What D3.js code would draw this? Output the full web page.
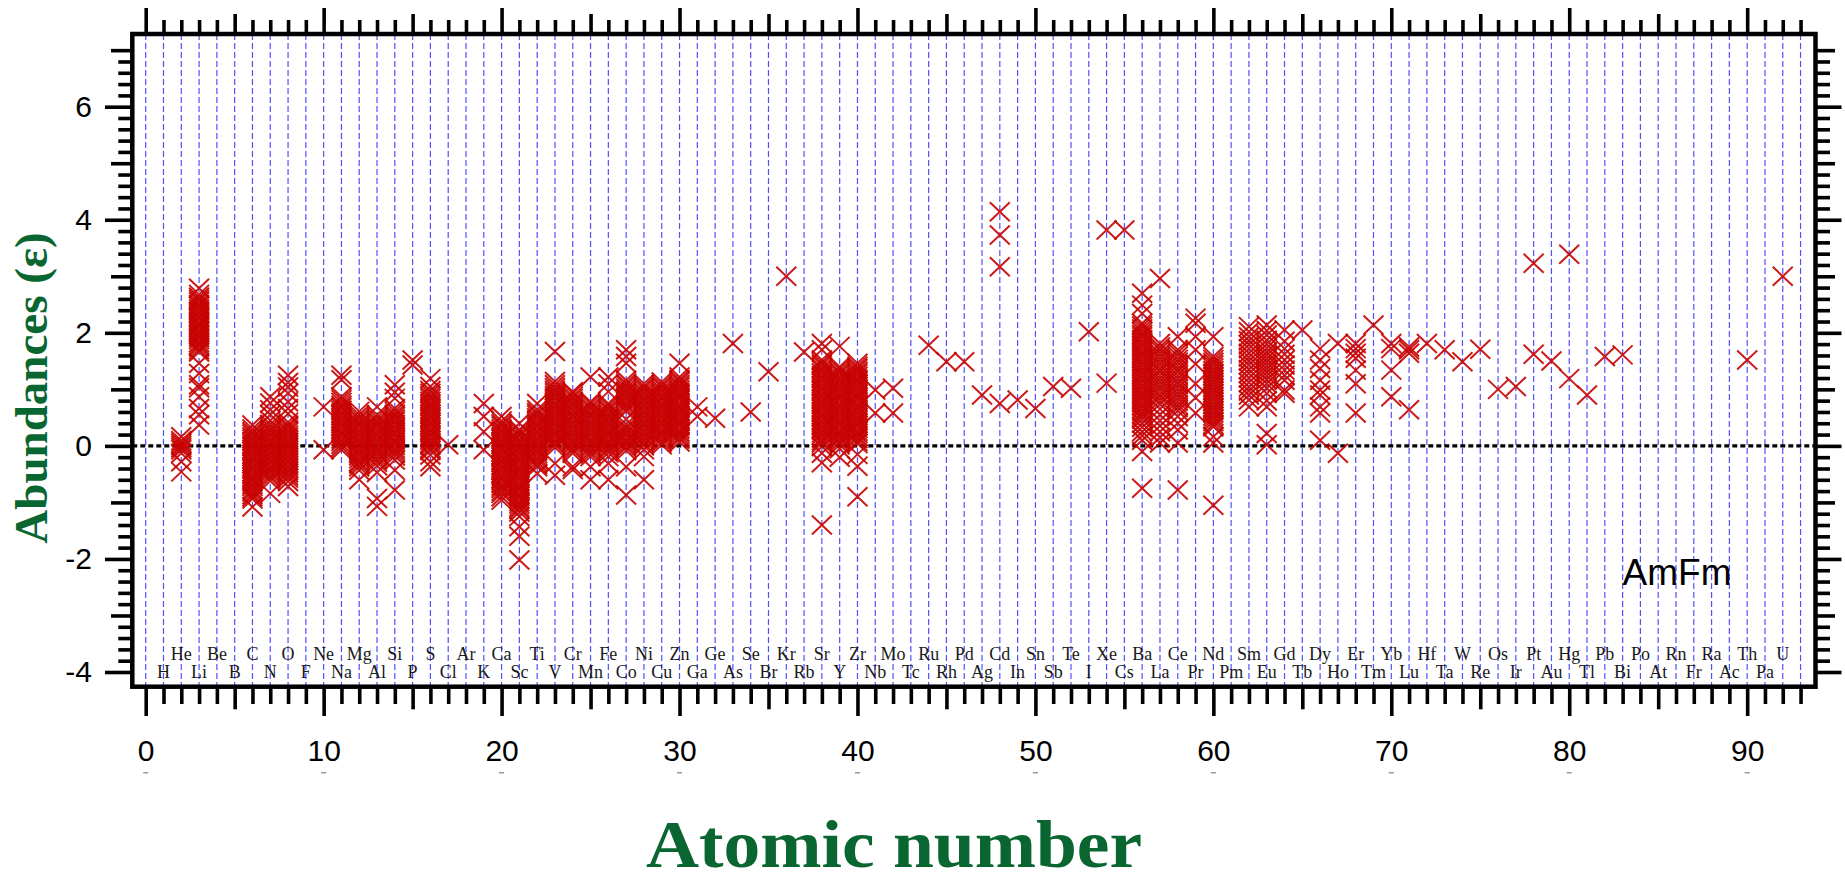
<!DOCTYPE html>
<html>
<head>
<meta charset="utf-8">
<script src="https://cdn.jsdelivr.net/npm/d3@7"></script>
<style>
  html, body { margin: 0; padding: 0; background: #ffffff; }
  svg { display: block; }
</style>
</head>
<body>
<svg id="chart" width="1845" height="882"></svg>
<script>
// Element symbols, index = atomic number - 1
const elementSymbols = ["H","He","Li","Be","B","C","N","O","F","Ne","Na","Mg","Al","Si","P","S","Cl","Ar","K","Ca",
  "Sc","Ti","V","Cr","Mn","Fe","Co","Ni","Cu","Zn","Ga","Ge","As","Se","Br","Kr","Rb","Sr","Y","Zr",
  "Nb","Mo","Tc","Ru","Rh","Pd","Ag","Cd","In","Sn","Sb","Te","I","Xe","Cs","Ba","La","Ce","Pr","Nd",
  "Pm","Sm","Eu","Gd","Tb","Dy","Ho","Er","Tm","Yb","Lu","Hf","Ta","W","Re","Os","Ir","Pt","Au","Hg",
  "Tl","Pb","Bi","Po","At","Rn","Fr","Ra","Ac","Th","Pa","U"];

const xMajorTicks = [0, 10, 20, 30, 40, 50, 60, 70, 80, 90];
const yMajorTicks = [-4, -2, 0, 2, 4, 6];
const seriesLabel = "AmFm";

// Abundances (epsilon) of each measured element
const He = [0.16, 0.09, 0.05, 0.01, -0.03, -0.07, -0.13, -0.28, -0.46];
const Li = [2.79, 2.68, 2.63, 2.59, 2.55, 2.50, 2.47, 2.42, 2.38, 2.34, 2.29, 2.26, 2.21, 2.17, 2.13, 2.09, 2.04, 2.01,
  1.96, 1.92, 1.88, 1.83, 1.79, 1.75, 1.70, 1.66, 1.46, 1.28, 1.08, 1.03, 0.87, 0.66, 0.55, 0.37];
const C = [0.37, 0.30, 0.25, 0.21, 0.16, 0.12, 0.08, 0.03, -0.01, -0.06, -0.10, -0.15, -0.19, -0.23, -0.28, -0.32,
  -0.37, -0.41, -0.46, -0.50, -0.55, -0.59, -0.63, -0.68, -0.72, -0.77, -0.81, -0.86, -0.90, -0.94, -1.08];
const N = [0.87, 0.76, 0.64, 0.55, 0.45, 0.38, 0.33, 0.28, 0.24, 0.19, 0.15, 0.10, 0.06, 0.01, -0.03, -0.08, -0.12,
  -0.17, -0.21, -0.26, -0.30, -0.35, -0.39, -0.44, -0.48, -0.53, -0.57, -0.62, -0.84];
const O = [1.25, 1.12, 1.04, 0.93, 0.78, 0.66, 0.57, 0.42, 0.37, 0.33, 0.28, 0.24, 0.19, 0.15, 0.10, 0.06, 0.01, -0.03,
  -0.08, -0.12, -0.17, -0.21, -0.26, -0.30, -0.35, -0.39, -0.44, -0.48, -0.53, -0.57, -0.63, -0.72];
const Ne = [0.69, -0.07];
const Na = [1.25, 1.17, 0.87, 0.82, 0.77, 0.72, 0.68, 0.63, 0.58, 0.54, 0.49, 0.45, 0.40, 0.35, 0.31, 0.26, 0.22, 0.17,
  0.12, 0.08, 0.03, -0.02, -0.07];
const Mg = [0.61, 0.55, 0.50, 0.46, 0.41, 0.37, 0.32, 0.27, 0.23, 0.18, 0.14, 0.09, 0.05, 0.00, -0.05, -0.09, -0.14,
  -0.18, -0.23, -0.28, -0.32, -0.37, -0.43, -0.60];
const Al = [0.69, 0.55, 0.50, 0.45, 0.41, 0.36, 0.32, 0.27, 0.22, 0.18, 0.13, 0.09, 0.04, -0.01, -0.05, -0.10, -0.14,
  -0.19, -0.24, -0.29, -0.35, -0.47, -0.93, -1.07];
const Si = [1.08, 0.95, 0.84, 0.66, 0.61, 0.56, 0.52, 0.47, 0.43, 0.38, 0.33, 0.29, 0.24, 0.20, 0.15, 0.10, 0.06, 0.01,
  -0.04, -0.08, -0.13, -0.18, -0.25, -0.43, -0.78];
const P = [1.52, 1.43];
const S = [1.19, 1.05, 0.98, 0.93, 0.88, 0.84, 0.79, 0.74, 0.70, 0.65, 0.61, 0.56, 0.51, 0.47, 0.42, 0.38, 0.33, 0.28,
  0.24, 0.19, 0.15, 0.10, 0.05, 0.01, -0.04, -0.08, -0.16, -0.28, -0.37];
const Cl = [0.02];
const K = [0.75, 0.52, 0.25, -0.07];
const Ca = [0.52, 0.44, 0.39, 0.35, 0.30, 0.26, 0.21, 0.16, 0.12, 0.07, 0.03, -0.02, -0.06, -0.11, -0.16, -0.20, -0.25,
  -0.29, -0.34, -0.38, -0.43, -0.48, -0.52, -0.57, -0.61, -0.66, -0.71, -0.75, -0.80, -0.84, -0.90, -0.96];
const Sc = [0.40, 0.29, 0.25, 0.20, 0.16, 0.11, 0.07, 0.02, -0.03, -0.07, -0.12, -0.16, -0.21, -0.25, -0.30, -0.35,
  -0.39, -0.44, -0.48, -0.53, -0.57, -0.62, -0.67, -0.71, -0.76, -0.80, -0.85, -0.89, -0.94, -0.99, -1.03, -1.08,
  -1.12, -1.17, -1.25, -1.43, -1.60, -2.02];
const Ti = [0.75, 0.64, 0.59, 0.55, 0.50, 0.46, 0.41, 0.36, 0.32, 0.27, 0.23, 0.18, 0.13, 0.09, 0.04, 0.00, -0.05,
  -0.09, -0.14, -0.19, -0.23, -0.28, -0.33, -0.37, -0.49];
const V = [1.67, 1.14, 1.08, 1.03, 0.98, 0.94, 0.89, 0.85, 0.80, 0.75, 0.71, 0.66, 0.62, 0.57, 0.52, 0.48, 0.43, 0.39,
  0.34, 0.29, 0.25, 0.20, 0.16, 0.11, 0.06, 0.02, -0.03, -0.31, -0.52];
const Cr = [0.96, 0.93, 0.88, 0.84, 0.79, 0.75, 0.70, 0.65, 0.61, 0.56, 0.52, 0.47, 0.42, 0.38, 0.33, 0.29, 0.24, 0.19,
  0.15, 0.10, 0.06, 0.01, -0.04, -0.08, -0.13, -0.37, -0.42];
const Mn = [1.22, 0.78, 0.74, 0.69, 0.65, 0.60, 0.55, 0.51, 0.46, 0.42, 0.37, 0.32, 0.28, 0.23, 0.19, 0.14, 0.09, 0.05,
  0.00, -0.04, -0.09, -0.14, -0.19, -0.37, -0.60];
const Fe = [1.22, 1.10, 0.96, 0.75, 0.71, 0.66, 0.62, 0.57, 0.52, 0.48, 0.43, 0.39, 0.34, 0.29, 0.25, 0.20, 0.16, 0.11,
  0.06, 0.02, -0.03, -0.07, -0.12, -0.19, -0.31, -0.60];
const Co = [1.70, 1.58, 1.46, 1.16, 1.11, 1.07, 1.02, 0.97, 0.93, 0.88, 0.84, 0.79, 0.74, 0.70, 0.65, 0.61, 0.47, 0.38,
  0.33, 0.29, 0.24, 0.20, 0.15, 0.10, 0.06, 0.01, -0.03, -0.08, -0.37, -0.87];
const Ni = [1.10, 1.05, 1.01, 0.96, 0.92, 0.87, 0.82, 0.78, 0.73, 0.69, 0.64, 0.60, 0.55, 0.50, 0.46, 0.41, 0.37, 0.32,
  0.27, 0.23, 0.18, 0.14, 0.09, 0.04, 0.00, -0.07, -0.19, -0.60];
const Cu = [1.13, 1.08, 1.04, 0.99, 0.95, 0.90, 0.85, 0.81, 0.76, 0.72, 0.67, 0.62, 0.58, 0.53, 0.49, 0.44, 0.40, 0.35,
  0.30, 0.26, 0.21, 0.17, 0.12, 0.07, 0.02];
const Zn = [1.46, 1.22, 1.17, 1.13, 1.08, 1.04, 0.99, 0.94, 0.90, 0.85, 0.81, 0.76, 0.71, 0.67, 0.62, 0.58, 0.53, 0.48,
  0.44, 0.39, 0.35, 0.30, 0.25, 0.21, 0.16, 0.12, 0.07];
const Ga = [0.69, 0.52];
const Ge = [0.49];
const As = [1.81];
const Se = [0.60];
const Br = [1.31];
const Kr = [3.00];
const Rb = [1.66];
const Sr = [1.81, 1.70, 1.52, 1.47, 1.43, 1.38, 1.34, 1.29, 1.24, 1.20, 1.15, 1.11, 1.06, 1.01, 0.97, 0.92, 0.88, 0.83,
  0.78, 0.74, 0.69, 0.65, 0.60, 0.55, 0.51, 0.46, 0.42, 0.37, 0.32, 0.28, 0.23, 0.19, 0.14, 0.09, 0.05, -0.01, -0.13,
  -0.30, -1.40];
const Y = [1.76, 1.40, 1.36, 1.31, 1.27, 1.22, 1.17, 1.13, 1.08, 1.04, 0.99, 0.94, 0.90, 0.85, 0.81, 0.76, 0.71, 0.67,
  0.62, 0.58, 0.53, 0.48, 0.44, 0.39, 0.35, 0.30, 0.25, 0.21, 0.16, 0.12, 0.07, 0.02, -0.05, -0.20];
const Zr = [1.46, 1.41, 1.37, 1.32, 1.28, 1.23, 1.18, 1.14, 1.09, 1.05, 1.00, 0.95, 0.91, 0.86, 0.82, 0.77, 0.72, 0.68,
  0.63, 0.59, 0.54, 0.49, 0.45, 0.40, 0.36, 0.31, 0.26, 0.22, 0.17, 0.13, 0.08, 0.04, -0.15, -0.36, -0.90];
const Nb = [0.99, 0.58];
const Mo = [1.02, 0.58];
const Ru = [1.78];
const Rh = [1.49];
const Pd = [1.49];
const Ag = [0.90];
const Cd = [4.14, 3.73, 3.17, 0.75];
const In = [0.81];
const Sn = [0.66];
const Sb = [1.05];
const Te = [1.02];
const I = [2.02];
const Xe = [3.82, 1.11];
const Cs = [3.82];
const Ba = [2.70, 2.49, 2.34, 2.17, 2.12, 2.07, 2.02, 1.97, 1.93, 1.88, 1.83, 1.78, 1.73, 1.68, 1.63, 1.59, 1.54, 1.49,
  1.44, 1.39, 1.34, 1.29, 1.25, 1.20, 1.15, 1.10, 1.05, 1.00, 0.95, 0.91, 0.86, 0.81, 0.76, 0.71, 0.66, 0.61, 0.57,
  0.52, 0.47, 0.40, 0.33, 0.25, 0.18, 0.10, -0.10, -0.75];
const La = [2.96, 1.81, 1.75, 1.70, 1.64, 1.58, 1.53, 1.47, 1.42, 1.36, 1.31, 1.25, 1.19, 1.14, 1.08, 1.03, 0.97, 0.91,
  0.86, 0.80, 0.74, 0.65, 0.55, 0.45, 0.35, 0.25, 0.15, 0.05];
const Ce = [1.93, 1.70, 1.65, 1.59, 1.53, 1.48, 1.42, 1.36, 1.31, 1.25, 1.19, 1.13, 1.08, 1.02, 0.96, 0.91, 0.85, 0.79,
  0.73, 0.68, 0.62, 0.52, 0.40, 0.28, 0.05, -0.78];
const Pr = [2.26, 2.17, 1.93, 1.70, 1.45, 1.10, 0.85, 0.58];
const Nd = [1.93, 1.58, 1.53, 1.48, 1.43, 1.38, 1.33, 1.28, 1.23, 1.18, 1.13, 1.08, 1.03, 0.98, 0.93, 0.88, 0.83, 0.78,
  0.73, 0.68, 0.63, 0.58, 0.53, 0.48, 0.43, 0.38, 0.34, 0.16, 0.05, -1.05];
const Sm = [2.11, 2.02, 1.93, 1.86, 1.79, 1.72, 1.64, 1.57, 1.50, 1.43, 1.35, 1.28, 1.20, 1.12, 1.04, 0.97, 0.90, 0.81, 0.69];
const Eu = [2.14, 2.04, 1.96, 1.87, 1.80, 1.73, 1.66, 1.60, 1.54, 1.48, 1.42, 1.36, 1.30, 1.24, 1.17, 1.10, 1.02, 0.93,
  0.80, 0.69, 0.22, 0.02];
const Gd = [2.05, 1.85, 1.72, 1.62, 1.52, 1.43, 1.34, 1.25, 1.16, 0.99, 0.93];
const Tb = [2.05];
const Dy = [1.72, 1.52, 1.37, 1.16, 0.99, 0.90, 0.69, 0.58, 0.10];
const Ho = [1.81, -0.13];
const Er = [1.81, 1.72, 1.64, 1.55, 1.34, 1.10, 0.58];
const Tm = [2.14];
const Yb = [1.81, 1.72, 1.34, 0.87];
const Lu = [1.75, 1.70, 1.64, 0.64];
const Hf = [1.81];
const Ta = [1.70];
const W = [1.49];
const Re = [1.71];
const Os = [1.00];
const Ir = [1.05];
const Pt = [3.23, 1.62];
const Au = [1.50];
const Hg = [3.39, 1.19];
const Tl = [0.90];
const Pb = [1.58];
const Bi = [1.61];
const Th = [1.52];
const U = [3.00];

// atomic number -> measured values
const abundanceSets = [
  [2, He], [3, Li], [6, C], [7, N], [8, O], [10, Ne], [11, Na], [12, Mg], [13, Al], [14, Si], [15, P], [16, S],
  [17, Cl], [19, K], [20, Ca], [21, Sc], [22, Ti], [23, V], [24, Cr], [25, Mn], [26, Fe], [27, Co], [28, Ni],
  [29, Cu], [30, Zn], [31, Ga], [32, Ge], [33, As], [34, Se], [35, Br], [36, Kr], [37, Rb], [38, Sr], [39, Y],
  [40, Zr], [41, Nb], [42, Mo], [44, Ru], [45, Rh], [46, Pd], [47, Ag], [48, Cd], [49, In], [50, Sn], [51, Sb],
  [52, Te], [53, I], [54, Xe], [55, Cs], [56, Ba], [57, La], [58, Ce], [59, Pr], [60, Nd], [62, Sm], [63, Eu],
  [64, Gd], [65, Tb], [66, Dy], [67, Ho], [68, Er], [69, Tm], [70, Yb], [71, Lu], [72, Hf], [73, Ta], [74, W],
  [75, Re], [76, Os], [77, Ir], [78, Pt], [79, Au], [80, Hg], [81, Tl], [82, Pb], [83, Bi], [90, Th], [92, U]
];

const points = abundanceSets.flatMap(([z, vals]) => vals.map(v => ({ z, v })));

// ---- layout ----
const frame = { left: 132.3, right: 1815.5, top: 34, bottom: 686.7 };
const svg = d3.select("#chart");

const x = d3.scaleLinear().domain([-0.753, 93.84]).range([frame.left, frame.right]);
const y = d3.scaleLinear().domain([-4.26, 7.286]).range([frame.bottom, frame.top]);

const zAll = d3.range(0, 94);
const xMinor = zAll.filter(d => d % 5 !== 0);
const xMedium = zAll.filter(d => d % 5 === 0 && d % 10 !== 0);
const yFine = d3.range(-19, 36).map(i => +(i * 0.2).toFixed(1));
const yMinor = yFine.filter(d => Math.abs(d - Math.round(d)) > 1e-6);
const yMedium = yFine.filter(d => Math.abs(d - Math.round(d)) < 1e-6 && Math.abs(Math.round(d)) % 2 === 1);

// vertical dashed grid at every atomic number
svg.append("g").selectAll("line").data(zAll).join("line")
  .attr("x1", d => x(d)).attr("x2", d => x(d))
  .attr("y1", frame.top).attr("y2", frame.bottom)
  .attr("stroke", "#3d3dff").attr("stroke-opacity", 0.9)
  .attr("stroke-width", 1.2).attr("stroke-dasharray", "6,3");

// element symbols, alternating rows
svg.append("g").selectAll("text").data(elementSymbols).join("text")
  .attr("x", (d, i) => x(i + 1))
  .attr("y", (d, i) => ((i + 1) % 2 === 0 ? 660 : 677.7))
  .attr("text-anchor", "middle")
  .attr("font-family", "'Liberation Serif', 'Times New Roman', serif")
  .attr("font-size", 18).attr("fill", "#1a1a1a")
  .text(d => d);

// solar reference line
svg.append("line")
  .attr("x1", frame.left).attr("x2", frame.right)
  .attr("y1", y(0)).attr("y2", y(0))
  .attr("stroke", "#000").attr("stroke-width", 3.2).attr("stroke-dasharray", "5,3");

// cross markers
const cross = "M-10,-9.5L10,9.5M-10,9.5L10,-9.5";
svg.append("g").selectAll("path").data(points).join("path")
  .attr("transform", d => `translate(${x(d.z)},${y(d.v)})`)
  .attr("d", cross)
  .attr("fill", "none").attr("stroke", "#c80000")
  .attr("stroke-width", 2).attr("stroke-opacity", 0.9);

// frame
svg.append("rect")
  .attr("x", frame.left).attr("y", frame.top)
  .attr("width", frame.right - frame.left).attr("height", frame.bottom - frame.top)
  .attr("fill", "none").attr("stroke", "#000").attr("stroke-width", 4.5);

// tick marks on all four sides
function tickGroup(axis, tx, ty) {
  const g = svg.append("g").attr("transform", `translate(${tx},${ty})`).call(axis);
  g.select(".domain").remove();
  g.selectAll(".tick line").attr("stroke", "#000").attr("stroke-width", 3.6);
  return g;
}
const noLabel = () => "";
tickGroup(d3.axisBottom(x).tickValues(xMinor).tickSize(17.3).tickFormat(noLabel), 0, frame.bottom);
tickGroup(d3.axisBottom(x).tickValues(xMedium).tickSize(22.6).tickFormat(noLabel), 0, frame.bottom);
const xLab = tickGroup(d3.axisBottom(x).tickValues(xMajorTicks).tickSize(29.3).tickPadding(23.4)
  .tickFormat(d => String(d)), 0, frame.bottom);
tickGroup(d3.axisTop(x).tickValues(xMinor).tickSize(14).tickFormat(noLabel), 0, frame.top);
tickGroup(d3.axisTop(x).tickValues(xMedium).tickSize(20).tickFormat(noLabel), 0, frame.top);
tickGroup(d3.axisTop(x).tickValues(xMajorTicks).tickSize(26).tickFormat(noLabel), 0, frame.top);

tickGroup(d3.axisLeft(y).tickValues(yMinor).tickSize(14).tickFormat(noLabel), frame.left, 0);
tickGroup(d3.axisLeft(y).tickValues(yMedium).tickSize(21.3).tickFormat(noLabel), frame.left, 0);
const yLab = tickGroup(d3.axisLeft(y).tickValues(yMajorTicks).tickSize(27.3).tickPadding(13)
  .tickFormat(d => String(d)), frame.left, 0);
tickGroup(d3.axisRight(y).tickValues(yMinor).tickSize(14.5).tickFormat(noLabel), frame.right, 0);
tickGroup(d3.axisRight(y).tickValues(yMedium).tickSize(19.5).tickFormat(noLabel), frame.right, 0);
tickGroup(d3.axisRight(y).tickValues(yMajorTicks).tickSize(26).tickFormat(noLabel), frame.right, 0);

[xLab, yLab].forEach(g => g.selectAll(".tick text")
  .attr("font-family", "'Liberation Sans', Arial, Helvetica, sans-serif")
  .attr("font-size", 30).attr("fill", "#000"));

// small grey marks under the x labels
svg.append("g").selectAll("rect").data(xMajorTicks).join("rect")
  .attr("x", d => x(d) - 2.5).attr("y", 772)
  .attr("width", 5).attr("height", 1.5).attr("fill", "#9a9a9a");

// series name
svg.append("text")
  .attr("x", 1677).attr("y", 585)
  .attr("text-anchor", "middle")
  .attr("font-family", "'Liberation Sans', Arial, sans-serif")
  .attr("font-size", 37).attr("fill", "#000")
  .text(seriesLabel);

// axis titles
svg.append("text")
  .attr("x", 894).attr("y", 867)
  .attr("text-anchor", "middle")
  .attr("font-family", "'Liberation Serif', 'Times New Roman', serif")
  .attr("font-weight", "bold").attr("font-size", 68).attr("fill", "#0a6631")
  .attr("textLength", 496).attr("lengthAdjust", "spacingAndGlyphs")
  .text("Atomic number");

svg.append("text")
  .attr("transform", "translate(47,388) rotate(-90)")
  .attr("text-anchor", "middle")
  .attr("font-family", "'Liberation Serif', 'Times New Roman', serif")
  .attr("font-weight", "bold").attr("font-size", 47).attr("fill", "#0a6631")
  .text("Abundances (ε)");
</script>
</body>
</html>
